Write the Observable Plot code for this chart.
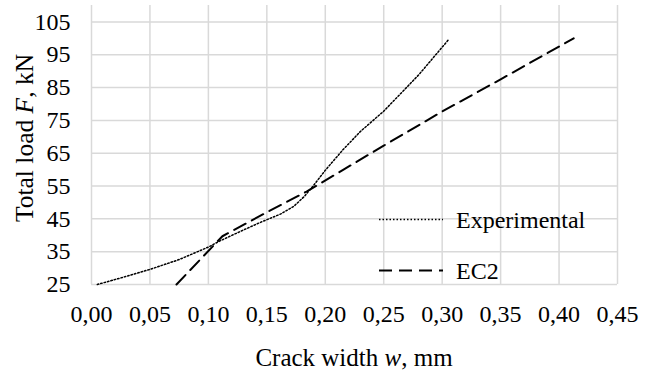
<!DOCTYPE html>
<html><head><meta charset="utf-8">
<script src="https://cdn.jsdelivr.net/npm/d3@7"></script>
<script src="https://cdn.jsdelivr.net/npm/@observablehq/plot@0.6"></script>
<style>
body{margin:0;background:#fff;}
#chart{width:654px;height:371px;}
#chart svg, #chart svg text{font-family:"Liberation Serif","Times New Roman",serif !important;}
</style></head><body><div id="chart"></div>
<script>
// Experimental series (crack width, mm / total load, kN)
const expW = [0.005, 0.025, 0.05, 0.075, 0.10, 0.11, 0.13, 0.145, 0.162, 0.173, 0.182, 0.19, 0.20, 0.215, 0.23, 0.25, 0.28, 0.305];
const expF = [25.0, 27.0, 29.6, 32.6, 36.4, 38.3, 41.6, 44.0, 46.5, 48.8, 51.8, 55.2, 59.8, 66.0, 71.6, 77.8, 88.9, 99.4];
// EC2 series
const ec2W = [0.0727, 0.112, 0.15, 0.184, 0.2156, 0.25, 0.30, 0.35, 0.40, 0.4125];
const ec2F = [25.0, 39.7, 47.0, 53.3, 60.0, 67.3, 77.7, 87.5, 97.5, 100.0];
// ticks
const xTicks = [0, 0.05, 0.10, 0.15, 0.20, 0.25, 0.30, 0.35, 0.40, 0.45];
const yTicks = [25, 35, 45, 55, 65, 75, 85, 95, 105];
const seriesNames = ["Experimental", "EC2"];

const expData = expW.map((w, i) => ({w, F: expF[i]}));
const ec2Data = ec2W.map((w, i) => ({w, F: ec2F[i]}));
const fmt = d => d3.format(".2f")(d).replace(".", ",");
const FONT = "Liberation Serif, serif";
const gridStyle = {stroke: "#d9d9d9", strokeOpacity: 1, strokeWidth: 1.5};
const expStyle = {stroke: "#000", strokeWidth: 1.5, strokeDasharray: "1.5,2"};
const ec2Style = {stroke: "#000", strokeWidth: 2, strokeDasharray: "13,7"};

const plot = Plot.plot({
  width: 654, height: 371,
  marginLeft: 91, marginRight: 37, marginTop: 5, marginBottom: 87,
  style: {fontFamily: FONT, fontSize: "24px", color: "#000", background: "#fff", overflow: "visible"},
  x: {domain: [0, 0.45], label: null},
  y: {domain: [25, 110], label: null},
  marks: [
    Plot.gridX(xTicks, gridStyle),
    Plot.gridY(yTicks, gridStyle),
    Plot.axisX(xTicks, {tickSize: 0, tickPadding: 20, tickFormat: fmt, label: null, fontSize: 24}),
    Plot.axisY(yTicks, {tickSize: 0, tickPadding: 21, label: null, fontSize: 24}),
    Plot.line(expData, {x: "w", y: "F", ...expStyle}),
    Plot.line(ec2Data, {x: "w", y: "F", ...ec2Style})
  ]
});
document.getElementById("chart").appendChild(plot);

const svg = d3.select(plot);
// axis titles with italic variables
const xt = svg.append("text").attr("x", 354).attr("y", 366).attr("text-anchor", "middle")
  .style("font-family", FONT).style("font-size", "25px").attr("fill", "#000");
xt.append("tspan").text("Crack width ");
xt.append("tspan").style("font-style", "italic").text("w");
xt.append("tspan").text(", mm");

const yt = svg.append("text").attr("transform", "translate(32.5,138) rotate(-90)").attr("text-anchor", "middle")
  .style("font-family", FONT).style("font-size", "25.5px").attr("fill", "#000");
yt.append("tspan").text("Total load ");
yt.append("tspan").style("font-style", "italic").text("F");
yt.append("tspan").text(", kN");

// legend
const leg = [{name: seriesNames[0], st: expStyle, y: 219.5}, {name: seriesNames[1], st: ec2Style, y: 270.5}];
leg.forEach(l => {
  svg.append("line").attr("x1", 379).attr("x2", 443).attr("y1", l.y).attr("y2", l.y)
    .attr("stroke", l.st.stroke).attr("stroke-width", l.st.strokeWidth).attr("stroke-dasharray", l.st.strokeDasharray);
  svg.append("text").attr("x", 456).attr("y", l.y + 8.5).attr("text-anchor", "start")
    .style("font-family", FONT).style("font-size", "24px").attr("fill", "#000").text(l.name);
});
</script></body></html>
